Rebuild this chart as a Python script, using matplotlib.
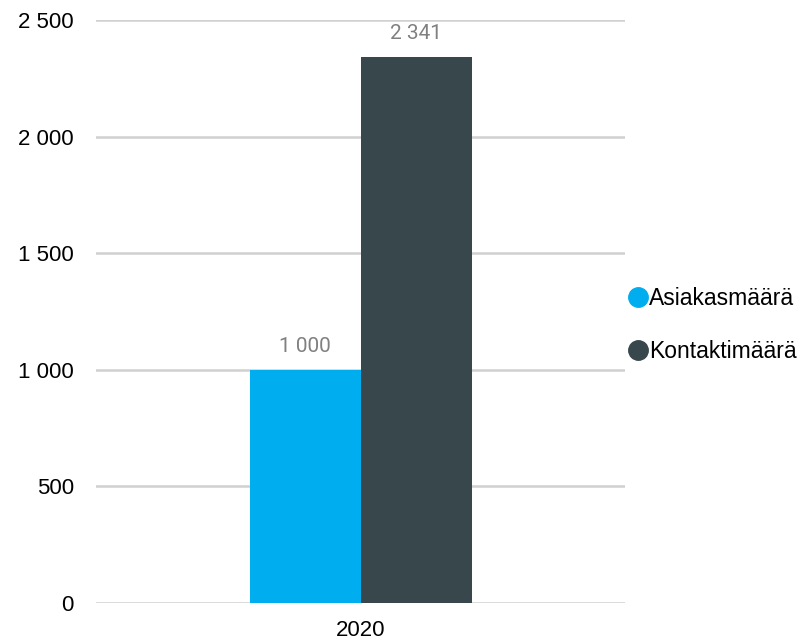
import matplotlib.pyplot as plt
from matplotlib.lines import Line2D
import numpy as np

plt.rcParams['font.family'] = ['Liberation Sans', 'DejaVu Sans']

# Data
years = ['2020']
series_names = ['Asiakasmäärä', 'Kontaktimäärä']
asiakas = [1000]
kontakti = [2341]
colors = ['#00AEEF', '#37474C']
yticks = [0, 500, 1000, 1500, 2000, 2500]

fig = plt.figure(figsize=(8.04, 6.42), dpi=100)
ax = fig.add_axes([96 / 804, 1 - 603 / 642, 529 / 804, 583 / 642])

x = np.arange(len(years))
width = 111 / 529
values = [asiakas, kontakti]
offsets = [-width / 2, width / 2]

for vals, off, col in zip(values, offsets, colors):
    bars = ax.bar(x + off, vals, width=width, color=col, zorder=3)
    for b, v in zip(bars, vals):
        ax.text(b.get_x() + b.get_width() / 2, v + 60,
                f'{v:,}'.replace(',', ' '), ha='center', va='bottom',
                fontsize=15, color='#808080', family=['Roboto', 'DejaVu Sans'])

ax.set_xlim(-0.5, 0.5)
ax.set_ylim(0, 2500)
ax.set_yticks(yticks)
ax.set_yticklabels([f'{t:,}'.replace(',', ' ') for t in yticks])
ax.set_xticks(x)
ax.set_xticklabels(years)

ax.grid(axis='y', color='#d0d0d0', linewidth=1.8, zorder=0)
ax.set_axisbelow(True)
for s in ax.spines.values():
    s.set_visible(False)
ax.tick_params(axis='y', length=0, pad=16, labelsize=16)
ax.tick_params(axis='x', length=0, pad=12, labelsize=16)

# Legend with circle markers
handles = [Line2D([0], [0], marker='o', linestyle='', markersize=14,
                  markerfacecolor=c, markeredgecolor=c) for c in colors]
fig.legend(handles, series_names, loc='center left',
           bbox_to_anchor=(615 / 804, 1 - 325 / 642), frameon=False,
           fontsize=16.5, handletextpad=-0.1, labelspacing=1.3,
           handlelength=1.2, borderaxespad=0)

fig.savefig('out.png', dpi=100)
